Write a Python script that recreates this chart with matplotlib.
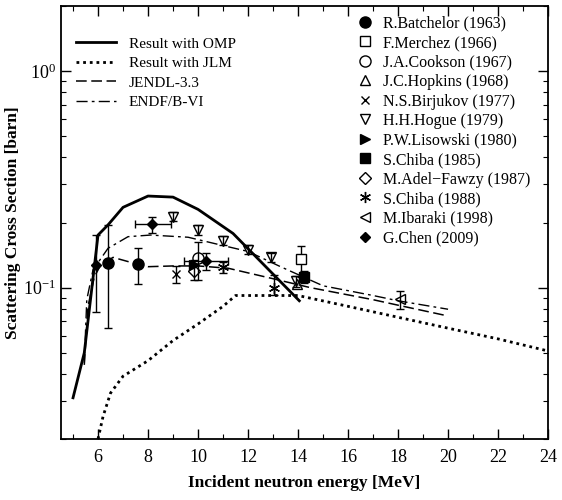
import matplotlib
matplotlib.use('Agg')
import matplotlib.pyplot as plt
from matplotlib.lines import Line2D
from matplotlib.ticker import MultipleLocator, LogLocator, NullFormatter

plt.rcParams['font.family'] = ['Liberation Serif', 'DejaVu Serif']
plt.rcParams['mathtext.fontset'] = 'stix'

# calculations / evaluations
omp_e = [5.0, 5.45, 6.0, 6.4, 7.0, 8.0, 9.0, 10.0, 11.4, 14.05]
omp_s = [0.031, 0.05, 0.175, 0.195, 0.235, 0.265, 0.262, 0.23, 0.178, 0.087]

jlm_e = [6.0, 6.2, 6.5, 7.0, 8.0, 9.0, 10.0, 11.0, 11.5, 14.0, 16.0, 18.0, 20.0, 22.0, 24.0]
jlm_s = [0.02, 0.0254, 0.0326, 0.039, 0.046, 0.057, 0.068, 0.082, 0.092, 0.092,
         0.082, 0.073, 0.065, 0.058, 0.051]

jendl_e = [5.45, 5.6, 5.85, 6.1, 6.6, 7.2, 8.0, 9.0, 10.0, 11.2, 13.0, 14.5, 15.3, 17.0, 18.0, 20.0]
jendl_s = [0.044, 0.082, 0.112, 0.127, 0.138, 0.132, 0.125, 0.126, 0.126, 0.123, 0.11,
           0.1, 0.096, 0.088, 0.083, 0.074]

endf_e = [5.45, 5.55, 5.8, 6.4, 7.2, 8.1, 9.6, 10.65, 12.0, 13.3, 15.0, 17.0, 18.0, 20.0]
endf_s = [0.045, 0.088, 0.121, 0.152, 0.172, 0.175, 0.171, 0.16, 0.147, 0.125, 0.102,
          0.092, 0.087, 0.0795]

# experiments: energy, value, lower error, upper error
batchelor_e = [6.39, 7.59]
batchelor_s = [0.13, 0.128]
batchelor_lo = [0.065, 0.024]
batchelor_hi = [0.065, 0.025]

merchez_e = [14.12]
merchez_s = [0.136]
merchez_lo = [0.024]
merchez_hi = [0.019]

cookson_e = [9.99]
cookson_s = [0.137]
cookson_lo = [0.029]
cookson_hi = [0.026]

hopkins_e = [13.95]
hopkins_s = [0.104]

birjukov_e = [9.12]
birjukov_s = [0.116]
birjukov_lo = [0.011]
birjukov_hi = [0.01]

hogue_e = [9.0, 10.0, 11.0, 12.0, 12.9, 13.9]
hogue_s = [0.213, 0.185, 0.165, 0.15, 0.138, 0.107]
hogue_err = [0.01, 0.009, 0.008, 0.007, 0.007, 0.006]

lisowski_e = [9.85]
lisowski_s = [0.127]

chiba85_e = [14.23]
chiba85_s = [0.112]
chiba85_lo = [0.007]
chiba85_hi = [0.008]

adel_e = [9.83]
adel_s = [0.119]
adel_lo = [0.011]
adel_hi = [0.015]

chiba88_e = [11.0, 13.03]
chiba88_s = [0.124, 0.10]
chiba88_lo = [0.007, 0.0074]
chiba88_hi = [0.008, 0.015]

ibaraki_e = [18.09]
ibaraki_s = [0.0887]
ibaraki_lo = [0.009]
ibaraki_hi = [0.0083]

chen_e = [5.92, 8.16, 10.32]
chen_s = [0.127, 0.197, 0.133]
chen_xlo = [0.0, 0.68, 0.87]
chen_xhi = [0.0, 0.77, 0.87]
chen_lo = [0.05, 0.018, 0.012]
chen_hi = [0.049, 0.016, 0.011]

fig = plt.figure(figsize=(5.62, 5.0), dpi=100)
ax = fig.add_axes([0.1077, 0.122, 0.8675, 0.866])

l1, = ax.plot(omp_e, omp_s, color='black', lw=2.0, label='Result with OMP')
l2, = ax.plot(jlm_e, jlm_s, color='black', lw=2.0, ls=(0, (1, 1.4)), label='Result with JLM')
l3, = ax.plot(jendl_e, jendl_s, color='black', lw=1.1, ls=(0, (7, 3)), label='JENDL-3.3')
l4, = ax.plot(endf_e, endf_s, color='black', lw=1.0, ls=(0, (8, 3, 2, 3)), label='ENDF/B-VI')

eb = dict(color='black', capsize=3, elinewidth=1.0, capthick=1.0, ls='none', mec='black')
asterisk = (6, 2, 0)


def exp(x, y, fmt, ms, mfc, label, **kw):
    ax.errorbar(x, y, fmt='none', **eb, **kw)
    ax.plot(x, y, ls='none', marker=fmt, ms=ms, mfc=mfc, mec='black', mew=1.0)
    return Line2D([], [], ls='none', marker=fmt, ms=ms, mfc=mfc, mec='black', mew=1.0,
                  color='black', label=label)


h = [
    exp(batchelor_e, batchelor_s, 'o', 8, 'black', 'R.Batchelor (1963)',
        yerr=[batchelor_lo, batchelor_hi]),
    exp(merchez_e, merchez_s, 's', 7, 'white', 'F.Merchez (1966)', yerr=[merchez_lo, merchez_hi]),
    exp(cookson_e, cookson_s, 'o', 8, 'none', 'J.A.Cookson (1967)', yerr=[cookson_lo, cookson_hi]),
    exp(hopkins_e, hopkins_s, '^', 7, 'none', 'J.C.Hopkins (1968)'),
    exp(birjukov_e, birjukov_s, 'x', 6, 'none', 'N.S.Birjukov (1977)',
        yerr=[birjukov_lo, birjukov_hi]),
    exp(hogue_e, hogue_s, 'v', 7, 'none', 'H.H.Hogue (1979)', yerr=hogue_err),
    exp(lisowski_e, lisowski_s, '>', 7, 'black', 'P.W.Lisowski (1980)'),
    exp(chiba85_e, chiba85_s, 's', 7, 'black', 'S.Chiba (1985)', yerr=[chiba85_lo, chiba85_hi]),
    exp(adel_e, adel_s, 'D', 6, 'none', 'M.Adel\u2212Fawzy (1987)', yerr=[adel_lo, adel_hi]),
    exp(chiba88_e, chiba88_s, asterisk, 8, 'black', 'S.Chiba (1988)',
        yerr=[chiba88_lo, chiba88_hi]),
    exp(ibaraki_e, ibaraki_s, '<', 7, 'none', 'M.Ibaraki (1998)', yerr=[ibaraki_lo, ibaraki_hi]),
    exp(chen_e, chen_s, 'D', 5, 'black', 'G.Chen (2009)',
        xerr=[chen_xlo, chen_xhi], yerr=[chen_lo, chen_hi]),
]

ax.set_xlim(4.5, 24)
ax.set_ylim(0.02, 2)
ax.set_yscale('log')
ax.xaxis.set_major_locator(MultipleLocator(2))
ax.xaxis.set_minor_locator(MultipleLocator(1))
ax.yaxis.set_major_locator(LogLocator(base=10))
ax.yaxis.set_minor_locator(LogLocator(base=10, subs=range(2, 10)))
ax.yaxis.set_minor_formatter(NullFormatter())
ax.tick_params(which='both', direction='in', top=True, right=True, labelsize=13)
ax.tick_params(axis='x', which='major', pad=7)
ax.tick_params(which='major', length=7, width=1)
ax.tick_params(which='minor', length=3.5, width=0.8)
for s in ax.spines.values():
    s.set_linewidth(1.3)

ax.set_xlabel('Incident neutron energy [MeV]', fontsize=12.5, fontweight='bold', labelpad=7)
ax.set_ylabel('Scattering Cross Section [barn]', fontsize=12.5, fontweight='bold', labelpad=1)

leg1 = ax.legend(handles=[l1, l2, l3, l4], loc='upper left', bbox_to_anchor=(0.004, 0.96),
                 frameon=False, fontsize=11, handlelength=2.6, handletextpad=0.85,
                 labelspacing=0.38, borderaxespad=0.5)
ax.add_artist(leg1)
ax.legend(handles=h, loc='upper left', bbox_to_anchor=(0.586, 1.004), frameon=False,
          fontsize=11.5, handlelength=1.0, handletextpad=0.6, labelspacing=0.22,
          borderaxespad=0.3)

plt.savefig('out.png', dpi=100)
